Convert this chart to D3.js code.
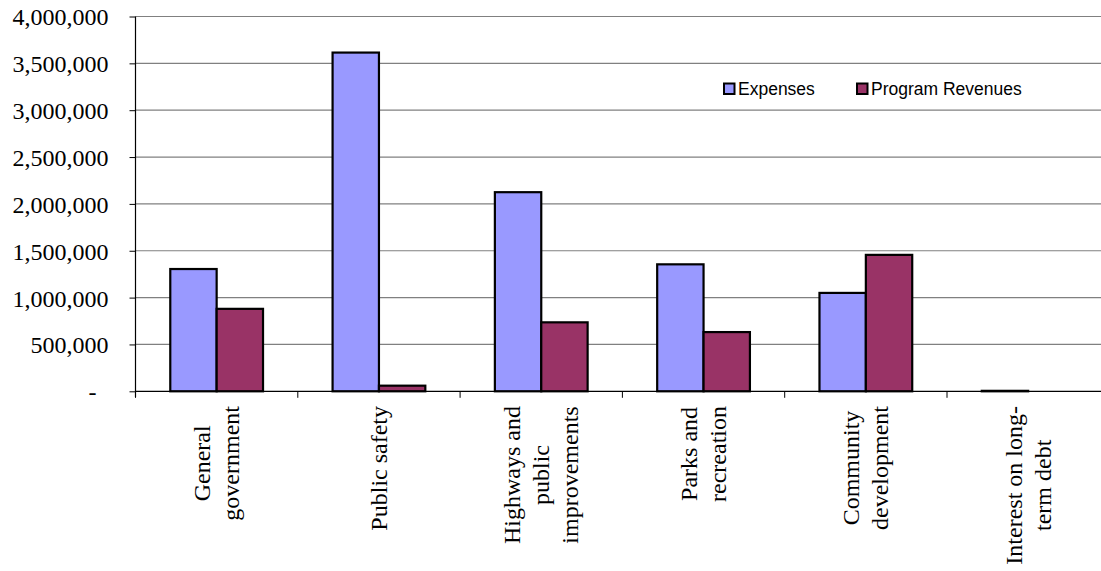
<!DOCTYPE html>
<meta charset="utf-8">
<script src="https://d3js.org/d3.v7.min.js"></script>
<style>
    body { margin: 0; background: #fff; }
    .ylab, .xlab { font-family: "Liberation Serif", "Times New Roman", serif; font-size: 24px; fill: #000; }
    .leg { font-family: "Liberation Sans", Arial, sans-serif; font-size: 17.5px; fill: #000; }
</style>
<body>
<div id="chart"></div>
<script>
    // data
    var categories = [
        ["General", "government"],
        ["Public safety"],
        ["Highways and", "public", "improvements"],
        ["Parks and", "recreation"],
        ["Community", "development"],
        ["Interest on long-", "term debt"]
    ]
    var series = ["Expenses", "Program Revenues"]
    var expenses = [1305000, 3615000, 2125000, 1355000, 1050000, 5000]
    var revenues = [880000, 60000, 736000, 632000, 1456000, 0]
    var yTicks = [0, 500000, 1000000, 1500000, 2000000, 2500000, 3000000, 3500000, 4000000]

    var colors = ["#9999FF", "#993366"]

    var width = 1101, height = 571
    var plotLeft = 135.5, plotTop = 16.5, plotBottom = 391.3
    var bandW = 162.3
    var plotRight = plotLeft + bandW * categories.length

    var svg = d3.select("#chart").append("svg")
        .attr("width", width)
        .attr("height", height)

    var x0 = d3.scaleBand()
        .domain(d3.range(categories.length))
        .range([plotLeft, plotRight])
        .padding(0)

    // excel gap width ~150%
    var barW = bandW / 3.5
    var x1 = d3.scaleBand()
        .domain(d3.range(series.length))
        .range([barW * 0.75, bandW - barW * 0.75])
        .padding(0)

    var y = d3.scaleLinear()
        .domain([0, 4000000])
        .range([plotBottom, plotTop])

    // gridlines
    svg.append("g")
        .selectAll("line")
        .data(yTicks.slice(1))
        .enter()
        .append("line")
        .attr("x1", plotLeft)
        .attr("x2", plotRight)
        .attr("y1", function (d) { return y(d) })
        .attr("y2", function (d) { return y(d) })
        .attr("stroke", "#808080")
        .attr("stroke-width", 1.2)

    // y axis
    var fmt = d3.format(",")
    var yAxis = d3.axisLeft(y)
        .tickValues(yTicks)
        .tickSize(6)
        .tickPadding(21)
        .tickFormat(function (d) { return d === 0 ? "-" : fmt(d) })
    var gy = svg.append("g")
        .attr("transform", "translate(" + plotLeft + ",0)")
        .call(yAxis)
    gy.attr("font-family", null).attr("font-size", null)
    gy.select(".domain").remove()
    gy.selectAll(".tick line").attr("stroke", "#000")
    gy.selectAll(".tick text")
        .attr("class", "ylab")
        .attr("dy", "0.35em")
    gy.selectAll(".tick").filter(function (d) { return d === 0 }).select("text")
        .attr("dx", -12)
    svg.append("line")
        .attr("x1", plotLeft).attr("x2", plotLeft)
        .attr("y1", plotTop).attr("y2", plotBottom + 6)
        .attr("stroke", "#000").attr("stroke-width", 1.2)

    // bars
    var groups = svg.append("g")
        .selectAll("g")
        .data(categories.map(function (c, i) { return [expenses[i], revenues[i]] }))
        .enter()
        .append("g")
        .attr("transform", function (d, i) { return "translate(" + x0(i) + ",0)" })

    groups.selectAll("rect")
        .data(function (d) { return d })
        .enter()
        .append("rect")
        .filter(function (d) { return d > 0 })
        .attr("x", function (d, j) { return x1(j) })
        .attr("width", x1.bandwidth())
        .attr("y", function (d) { return y(d) })
        .attr("height", function (d) { return plotBottom - y(d) })
        .attr("fill", function (d, j) { return colors[j] })
        .attr("stroke", "#000")
        .attr("stroke-width", 2.2)

    // x axis
    svg.append("line")
        .attr("x1", plotLeft).attr("x2", plotRight)
        .attr("y1", plotBottom).attr("y2", plotBottom)
        .attr("stroke", "#000").attr("stroke-width", 1.2)
    svg.append("g")
        .selectAll("line")
        .data(d3.range(categories.length + 1))
        .enter()
        .append("line")
        .attr("x1", function (i) { return plotLeft + i * bandW })
        .attr("x2", function (i) { return plotLeft + i * bandW })
        .attr("y1", plotBottom)
        .attr("y2", plotBottom + 6.5)
        .attr("stroke", "#000")

    // category labels, rotated, lines centered, block top at ~406
    var lh = 29
    categories.forEach(function (lines, i) {
        var cx = x0(i) + bandW / 2
        var g = svg.append("g")
        var texts = lines.map(function (t, k) {
            return g.append("text")
                .attr("class", "xlab")
                .attr("text-anchor", "middle")
                .text(t)
        })
        var maxW = d3.max(texts, function (t) { return t.node().getComputedTextLength() })
        var cy = 406 + maxW / 2
        texts.forEach(function (t, k) {
            var bx = cx + (k - (lines.length - 1) / 2) * lh + 8
            t.attr("transform", "translate(" + bx + "," + cy + ") rotate(-90)")
        })
    })

    // legend
    var legX = [724, 857]
    var leg = svg.append("g")
        .selectAll("g")
        .data(series)
        .enter()
        .append("g")
        .attr("transform", function (d, i) { return "translate(" + legX[i] + ",83.5)" })
    leg.append("rect")
        .attr("width", 10.5)
        .attr("height", 10.5)
        .attr("fill", function (d, i) { return colors[i] })
        .attr("stroke", "#000")
        .attr("stroke-width", 2)
    leg.append("text")
        .attr("class", "leg")
        .attr("x", 14)
        .attr("y", 11)
        .text(function (d) { return d })
</script>
</body>
